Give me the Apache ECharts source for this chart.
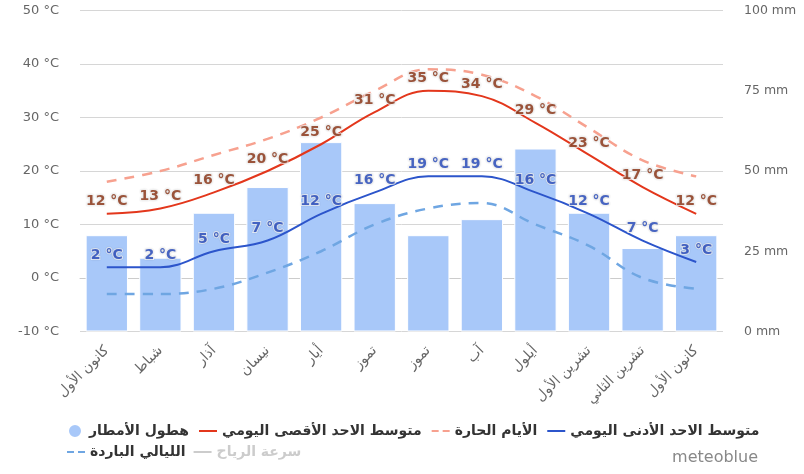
<!DOCTYPE html>
<html>
<head>
<meta charset="utf-8">
<script src="https://cdn.jsdelivr.net/npm/echarts@6/dist/echarts.min.js"></script>
<style>
  html, body { margin: 0; padding: 0; background: #fff; }
  #chart { width: 804px; height: 474px; }
</style>
</head>
<body>
<div id="chart"></div>
<script>
// Monthly climate: precipitation bars plus daily max/min and hot-day / cold-night curves
const months = ['كانون الأول', 'شباط', 'آذار', 'نيسان', 'أيار', 'تموز', 'تموز', 'آب', 'أيلول', 'تشرين الأول', 'تشرين الثاني', 'كانون الأول'];
const precipitation = [30, 23, 37, 45, 59, 40, 30, 35, 57, 37, 26, 30];
const meanMax = [12, 13, 16, 20, 25, 31, 35, 34, 29, 23, 17, 12];
const hotDays = [18, 20, 23, 26, 30, 35, 39, 38, 34, 28, 22, 19];
const meanMin = [2, 2, 5, 7, 12, 16, 19, 19, 16, 12, 7, 3];
const coldNights = [-3, -3, -2, 1, 5, 10, 13, 14, 10, 6, 0, -2];
const windSpeed = [];
const tempTicks = { min: -10, max: 50, interval: 10 };
const rainTicks = { min: 0, max: 100, interval: 25 };

const names = {
  rain: 'هطول الأمطار',
  max: 'متوسط الاحد الأقصى اليومي',
  hot: 'الأيام الحارة',
  min: 'متوسط الاحد الأدنى اليومي',
  cold: 'الليالي الباردة',
  wind: 'سرعة الرياح'
};

const FONT = 'DejaVu Sans';

// Legend glyphs: a solid stroke and a broken (dashed) stroke
const ICON_LINE = 'path://M0,0 H18 V2 H0 Z';
const ICON_DASH = 'path://M0,0 H7 V2 H0 Z M11,0 H18 V2 H11 Z';

// Invisible point series that only carries the "NN °C" value labels
function labelSeries(data, color) {
  return {
    type: 'scatter',
    data: data,
    symbolSize: 0,
    silent: true,
    itemStyle: { color: 'transparent' },
    label: {
      show: true,
      position: 'top',
      distance: 5,
      formatter: p => p.value + ' °C',
      color: color,
      fontFamily: FONT,
      fontWeight: 'bold',
      fontSize: 14,
      textBorderColor: 'rgba(255,255,255,0.9)',
      textBorderWidth: 2,
      textShadowColor: 'rgba(0,0,0,0.2)',
      textShadowBlur: 1.5
    },
    z: 10
  };
}

const legendText = { fontFamily: FONT, fontWeight: 'bold', fontSize: 14, color: '#333' };

const chart = echarts.init(document.getElementById('chart'), null, { renderer: 'canvas' });
chart.setOption({
  animation: false,
  backgroundColor: '#fff',
  grid: { left: 80, right: 81, top: 10.5, bottom: 142.5, containLabel: false },
  graphic: [{
    type: 'text', right: 46, top: 450,
    style: { text: 'meteoblue', fill: '#888', font: '16px ' + FONT }
  }],
  legend: [{
    data: [
      { name: names.rain, icon: 'circle' },
      { name: names.max, icon: ICON_LINE },
      { name: names.hot, icon: ICON_DASH },
      { name: names.min, icon: ICON_LINE }
    ],
    left: 62, top: 418, itemGap: 10, itemWidth: 18, itemHeight: 14,
    textStyle: legendText,
    selected: { [names.wind]: false }
  }, {
    data: [
      { name: names.cold, icon: ICON_DASH },
      { name: names.wind, icon: ICON_LINE }
    ],
    left: 62, top: 440, itemGap: 8, itemWidth: 18, itemHeight: 14,
    textStyle: legendText,
    inactiveColor: '#ccc',
    selected: { [names.wind]: false }
  }],
  xAxis: {
    type: 'category',
    data: months,
    boundaryGap: true,
    axisLine: { lineStyle: { color: '#ccc', width: 1 } },
    axisTick: { alignWithLabel: true, length: 11, lineStyle: { color: '#ccc' } },
    axisLabel: { rotate: 45, color: '#666', fontFamily: FONT, fontSize: 14, margin: 17, interval: 0 },
    splitLine: { show: false }
  },
  yAxis: [{
    type: 'value',
    min: tempTicks.min, max: tempTicks.max, interval: tempTicks.interval,
    axisLabel: { formatter: v => v + ' °C', color: '#666', fontFamily: FONT, fontSize: 13, margin: 21 },
    axisLine: { show: false }, axisTick: { show: false },
    splitLine: { lineStyle: { color: '#d6d6d6', width: 1 } }
  }, {
    type: 'value',
    min: rainTicks.min, max: rainTicks.max, interval: rainTicks.interval,
    axisLabel: { formatter: v => v + ' mm', color: '#666', fontFamily: FONT, fontSize: 12.5, margin: 21 },
    axisLine: { show: false }, axisTick: { show: false },
    splitLine: { show: false }
  }],
  series: [{
    name: names.rain,
    type: 'bar',
    yAxisIndex: 1,
    data: precipitation,
    barCategoryGap: '21%',
    itemStyle: { color: '#a8c8f9', borderColor: '#fff', borderWidth: 1 },
    z: 1
  }, {
    name: names.max,
    type: 'line',
    data: meanMax,
    smooth: 0.4,
    symbol: 'none',
    lineStyle: { color: '#e3371c', width: 2 },
    itemStyle: { color: '#e3371c' },
    z: 5
  }, {
    name: names.hot,
    type: 'line',
    data: hotDays,
    smooth: 0.4,
    symbol: 'none',
    lineStyle: { color: '#f7a18f', width: 2.5, type: [10, 8] },
    itemStyle: { color: '#f7a18f' },
    z: 3
  }, {
    name: names.min,
    type: 'line',
    data: meanMin,
    smooth: 0.4,
    symbol: 'none',
    lineStyle: { color: '#2c55cb', width: 2 },
    itemStyle: { color: '#2c55cb' },
    z: 5
  }, {
    name: names.cold,
    type: 'line',
    data: coldNights,
    smooth: 0.4,
    symbol: 'none',
    lineStyle: { color: '#6fa6e2', width: 2.5, type: [10, 8] },
    itemStyle: { color: '#6fa6e2' },
    z: 3
  }, {
    name: names.wind,
    type: 'line',
    data: windSpeed,
    symbol: 'none',
    lineStyle: { color: '#999', width: 2 },
    itemStyle: { color: '#999' }
  },
  labelSeries(meanMax, '#8c3314'),
  labelSeries(meanMin, '#2448bd')
  ]
});
</script>
</body>
</html>
